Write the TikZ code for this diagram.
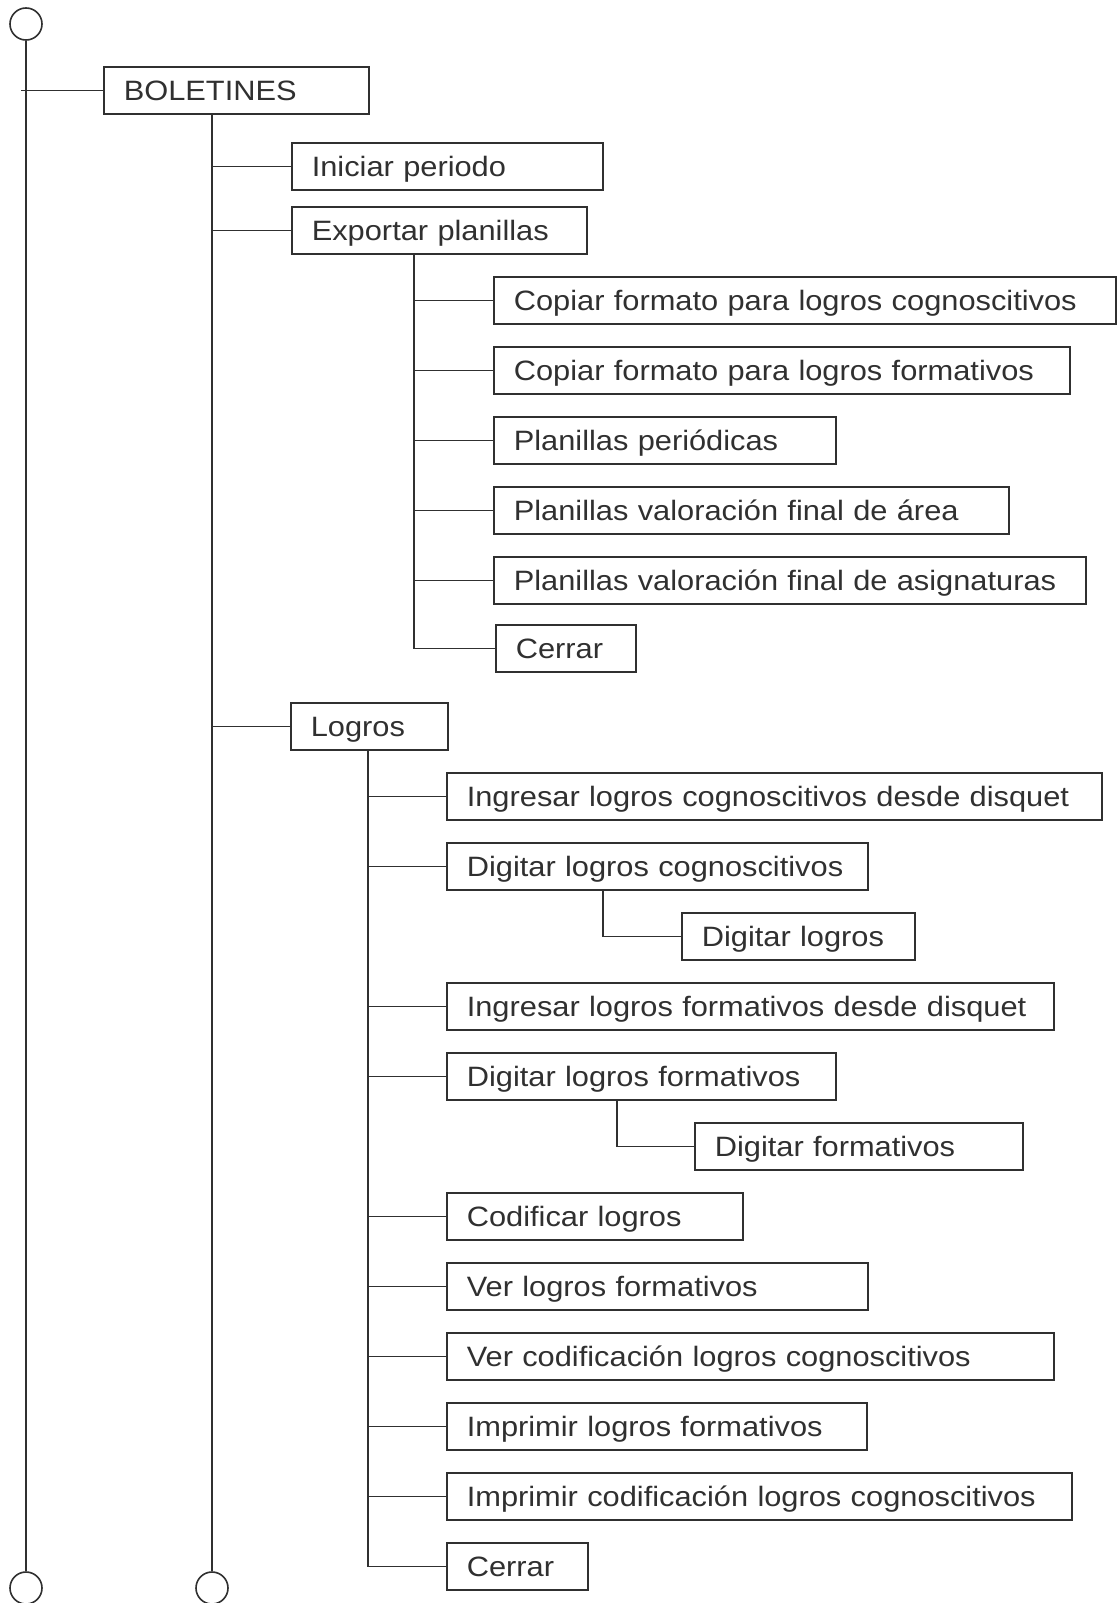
\documentclass[tikz,border=0pt]{standalone}
\usepackage{fontspec}
\setmainfont[FakeStretch=1.1]{Liberation Sans}
\definecolor{ink}{RGB}{48,48,48}
\tikzset{
  mbox/.style={draw=ink, text=ink, line width=1.6pt, rectangle, anchor=north west,
    minimum height=47pt, inner xsep=20pt, inner ysep=0pt,
    text height=20pt, text depth=0pt, align=left,
    font=\fontsize{28}{30}\selectfont},
  wire/.style={draw=ink, line width=1.6pt},
  endpt/.style={draw=ink, line width=1.6pt, circle, minimum size=32pt, inner sep=0pt}
}
\newcommand\menubox[5]{\node[mbox, text width=#4pt] (#1) at (#2,#3) {#5};}
\begin{document}
\begin{tikzpicture}[x=1pt, y=-1pt]
\useasboundingbox (0,0) rectangle (1117,1603);

% end points of the two main rails
\node[endpt] (top)  at (26,24) {};
\node[endpt] (botA) at (26,1588) {};
\node[endpt] (botB) at (212,1588) {};

% menu entries: name, left, top, text width, label
\menubox{bol}{103}{66}{225}{BOLETINES}
\menubox{ini}{291}{142}{271}{Iniciar periodo}
\menubox{exp}{291}{206}{255}{Exportar planillas}
\menubox{cfc}{493}{276}{582}{Copiar formato para logros cognoscitivos}
\menubox{cff}{493}{346}{536}{Copiar formato para logros formativos}
\menubox{ppe}{493}{416}{302}{Planillas periódicas}
\menubox{pva}{493}{486}{475}{Planillas valoración final de área}
\menubox{pvs}{493}{556}{552}{Planillas valoración final de asignaturas}
\menubox{ce1}{495}{624}{100}{Cerrar}
\menubox{log}{290}{702}{117}{Logros}
\menubox{ilc}{446}{772}{615}{Ingresar logros cognoscitivos desde disquet}
\menubox{dlc}{446}{842}{381}{Digitar logros cognoscitivos}
\menubox{dlg}{681}{912}{193}{Digitar logros}
\menubox{ilf}{446}{982}{567}{Ingresar logros formativos desde disquet}
\menubox{dlf}{446}{1052}{349}{Digitar logros formativos}
\menubox{dfo}{694}{1122}{288}{Digitar formativos}
\menubox{cod}{446}{1192}{256}{Codificar logros}
\menubox{vlf}{446}{1262}{381}{Ver logros formativos}
\menubox{vcc}{446}{1332}{567}{Ver codificación logros cognoscitivos}
\menubox{imf}{446}{1402}{380}{Imprimir logros formativos}
\menubox{imc}{446}{1472}{585}{Imprimir codificación logros cognoscitivos}
\menubox{ce2}{446}{1542}{101}{Cerrar}

% outer rail
\coordinate (stub) at (21,0);
\path[wire] (top.south) -- (botA.north);
\path[wire] (stub |- bol.west) -- (bol.west);

% BOLETINES rail
\path[wire] (bol.south -| botB) -- (botB.north);
\path[wire] (botB |- ini.west) -- (ini.west);
\path[wire] (botB |- exp.west) -- (exp.west);
\path[wire] (botB |- log.west) -- (log.west);

% Exportar planillas rail
\coordinate (ex) at (414,0);
\path[wire] (ex |- exp.south) -- (ex |- ce1.west) -- (ce1.west);
\foreach \n in {cfc,cff,ppe,pva,pvs}
  \path[wire] (ex |- \n.west) -- (\n.west);

% Logros rail
\coordinate (lg) at (368,0);
\path[wire] (lg |- log.south) -- (lg |- ce2.west) -- (ce2.west);
\foreach \n in {ilc,dlc,ilf,dlf,cod,vlf,vcc,imf,imc}
  \path[wire] (lg |- \n.west) -- (\n.west);

% sub-entries
\coordinate (s1) at (603,0);
\path[wire] (s1 |- dlc.south) -- (s1 |- dlg.west) -- (dlg.west);
\coordinate (s2) at (617,0);
\path[wire] (s2 |- dlf.south) -- (s2 |- dfo.west) -- (dfo.west);
\end{tikzpicture}
\end{document}
